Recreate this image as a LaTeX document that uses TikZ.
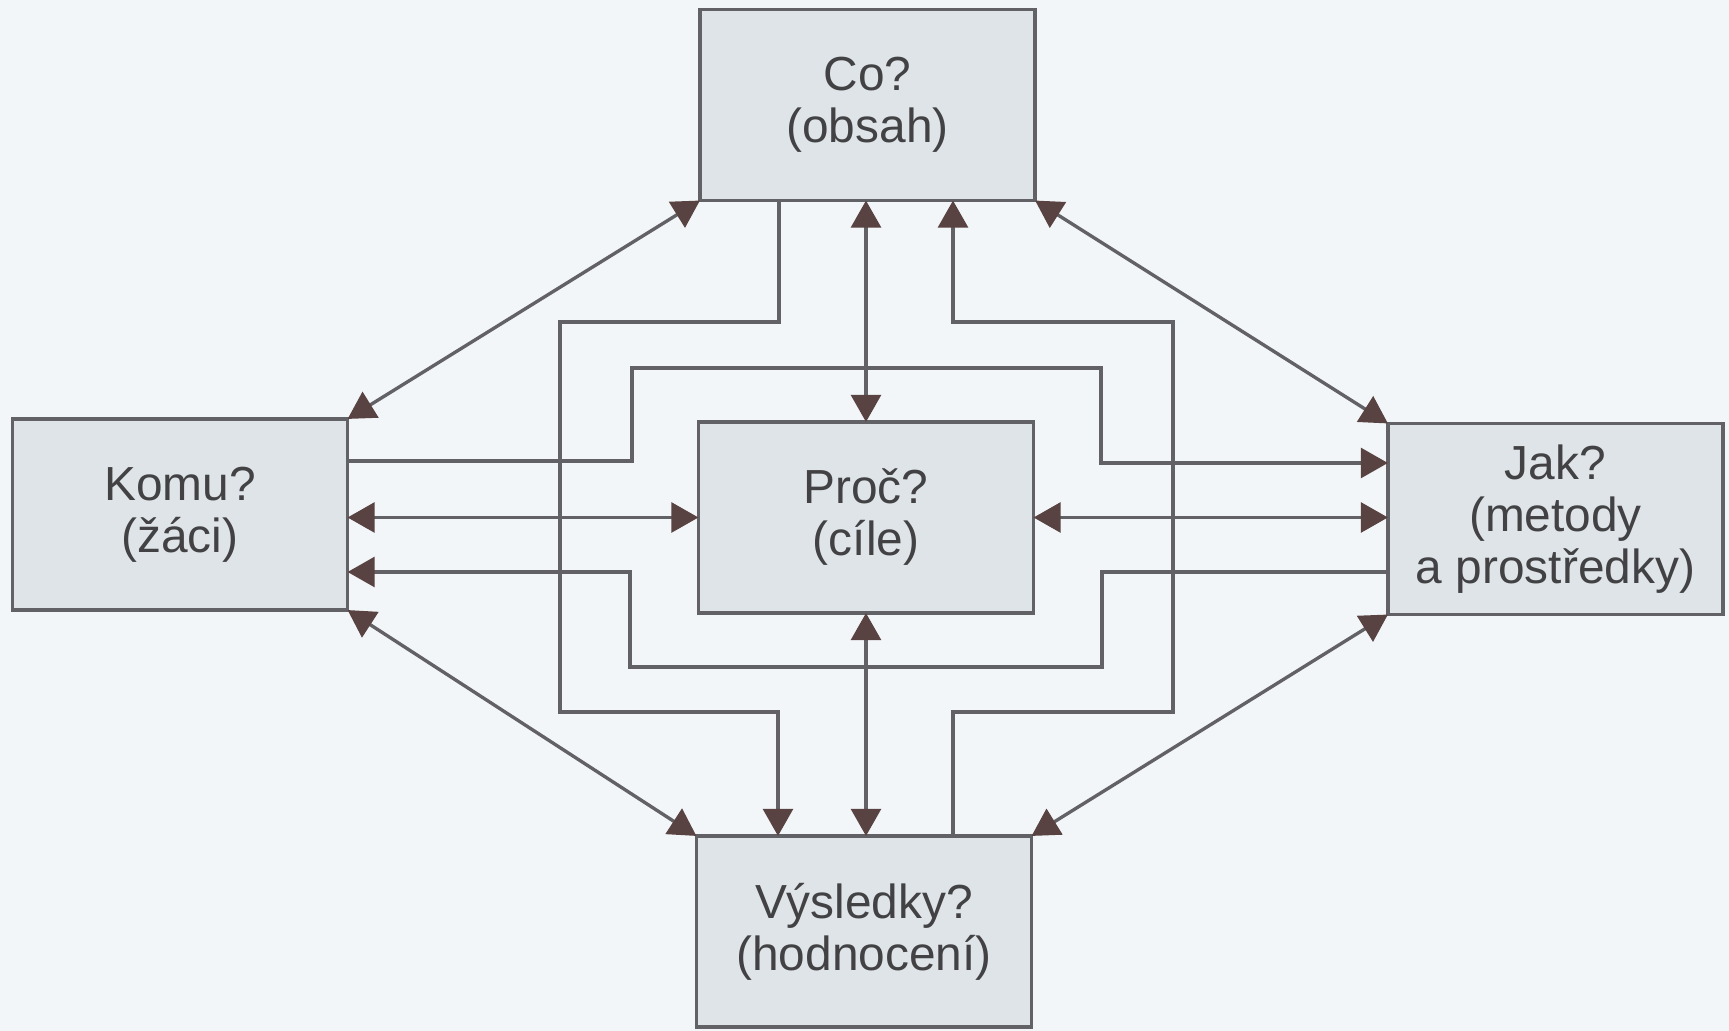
\documentclass[tikz,border=0pt]{standalone}
\usepackage{fontspec}
\setmainfont{Liberation Sans}
\usetikzlibrary{arrows.meta}
\definecolor{bgc}{RGB}{243,246,248}
\definecolor{boxfill}{RGB}{222,228,232}
\definecolor{linec}{RGB}{98,98,102}
\definecolor{arrc}{RGB}{88,66,66}
\definecolor{textc}{RGB}{66,66,68}
\tikzset{
  qbox/.style={draw=linec, fill=boxfill, line width=1pt, minimum width=3.35cm,
    minimum height=1.91cm, inner sep=0pt, outer sep=0pt, align=center,
    text=textc, font=\fontsize{13.6}{14.8}\selectfont},
  conn/.style={draw=linec, line width=0.95pt},
  >={Triangle[length=7.7pt,width=8.5pt,color=arrc,fill=arrc]}
}
\begin{document}
\begin{tikzpicture}[x=0.01cm,y=-0.01cm]
\fill[bgc] (0,0) rectangle (1729,1031);
\useasboundingbox (0,0) rectangle (1729,1031);
% boxes
\node[qbox] (co)   at (867.5,105)   {Co?\\(obsah)};
\node[qbox] (komu) at (180,514.5)   {Komu?\\(žáci)};
\node[qbox] (proc) at (866,517.5)   {Proč?\\(cíle)};
\node[qbox] (jak)  at (1555.5,519)  {Jak?\\(metody\\a prostředky)};
\node[qbox] (vys)  at (864,931.5)   {Výsledky?\\(hodnocení)};
% helper coordinates for stepped connectors
\coordinate (p1) at (632,461);
\coordinate (p2) at (632,368);
\coordinate (p3) at (1101,368);
\coordinate (p4) at (1101,463);
\coordinate (q1) at (1102,572);
\coordinate (q2) at (1102,667);
\coordinate (q3) at (630,667);
\coordinate (q4) at (630,572);
\coordinate (r1) at (779,322);
\coordinate (r2) at (560,322);
\coordinate (r3) at (560,712);
\coordinate (r4) at (778,712);
\coordinate (s1) at (953,712);
\coordinate (s2) at (1173,712);
\coordinate (s3) at (1173,322);
\coordinate (s4) at (953,322);
% diagonal connectors
\draw[conn,<->] (komu.north east) -- (co.south west);
\draw[conn,<->] (co.south east) -- (jak.north west);
\draw[conn,<->] (komu.south east) -- (vys.north west);
\draw[conn,<->] (jak.south west) -- (vys.north east);
% straight connectors
\draw[conn,<->] (co.south -| proc.north) -- (proc.north);
\draw[conn,<->] (proc.south) -- (vys.north -| proc.south);
\draw[conn,<->] (komu.east |- proc.west) -- (proc.west);
\draw[conn,<->] (proc.east) -- (jak.west |- proc.east);
% stepped connectors
\draw[conn,->] (komu.east |- p1) -- (p1) -- (p2) -- (p3) -- (p4) -- (jak.west |- p4);
\draw[conn,->] (jak.west |- q1) -- (q1) -- (q2) -- (q3) -- (q4) -- (komu.east |- q4);
\draw[conn,->] (co.south -| r1) -- (r1) -- (r2) -- (r3) -- (r4) -- (vys.north -| r4);
\draw[conn,->] (vys.north -| s1) -- (s1) -- (s2) -- (s3) -- (s4) -- (co.south -| s4);
\end{tikzpicture}
\end{document}
